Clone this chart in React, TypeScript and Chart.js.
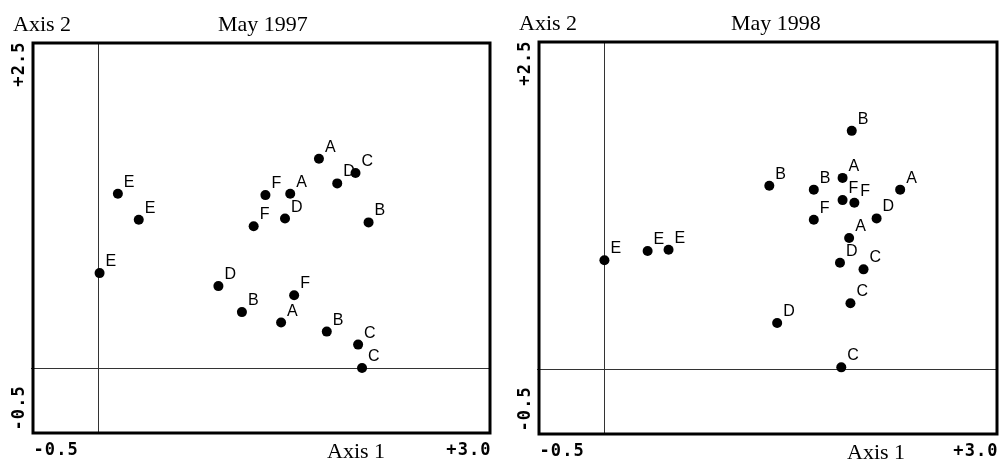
import React, { useEffect, useRef } from 'react';
import { Chart, registerables } from 'chart.js';

Chart.register(...registerables);

// ---- Data ----
const groups1997 = ['E', 'E', 'E', 'F', 'A', 'A', 'D', 'C', 'F', 'D', 'B', 'D', 'F', 'B', 'A', 'B', 'C', 'C'];
const axis1_1997 = [0.15, 0.31, 0.01, 1.28, 1.47, 1.69, 1.83, 1.97, 1.19, 1.43, 2.07, 0.92, 1.5, 1.1, 1.4, 1.75, 1.99, 2.02];
const axis2_1997 = [1.34, 1.14, 0.73, 1.33, 1.34, 1.61, 1.42, 1.5, 1.09, 1.15, 1.12, 0.63, 0.56, 0.43, 0.35, 0.28, 0.18, 0.0];

const groups1998 = ['B', 'A', 'B', 'B', 'A', 'F', 'F', 'F', 'D', 'A', 'E', 'E', 'E', 'D', 'C', 'C', 'D', 'C'];
const axis1_1998 = [1.89, 1.82, 1.26, 1.6, 2.26, 1.82, 1.91, 1.6, 2.08, 1.87, 0.0, 0.33, 0.49, 1.8, 1.98, 1.88, 1.32, 1.81];
const axis2_1998 = [1.82, 1.46, 1.4, 1.37, 1.37, 1.29, 1.27, 1.14, 1.15, 1.0, 0.83, 0.9, 0.91, 0.81, 0.76, 0.5, 0.35, 0.01];

const axis1Min = -0.5;
const axis1Max = 3.0;
const axis2Min = -0.5;
const axis2Max = 2.5;
const axis1TickLabels = ['-0.5', '+3.0'];
const axis2TickLabels = ['-0.5', '+2.5'];
const titles = ['May 1997', 'May 1998'];
const axis1Title = 'Axis 1';
const axis2Title = 'Axis 2';

// ---- Layout (styles, not data) ----
type Panel = {
  left: number;
  width: number;
  padding: { left: number; right: number; top: number; bottom: number };
  titleX: number;
  axis1TitleX: number;
  groups: string[];
  xs: number[];
  ys: number[];
  title: string;
};

const panels: Panel[] = [
  {
    left: 0,
    width: 500,
    padding: { left: 33, right: 10, top: 43, bottom: 27 },
    titleX: 218,
    axis1TitleX: 327,
    groups: groups1997,
    xs: axis1_1997,
    ys: axis2_1997,
    title: titles[0],
  },
  {
    left: 500,
    width: 502,
    padding: { left: 39, right: 2, top: 42, bottom: 26 },
    titleX: 231,
    axis1TitleX: 347,
    groups: groups1998,
    xs: axis1_1998,
    ys: axis2_1998,
    title: titles[1],
  },
];

const HEIGHT = 460;
const MONO = 'bold 17px "DejaVu Sans Mono", monospace';
const SERIF = '22px "Liberation Serif", "Times New Roman", serif';
const SANS = '16px "Liberation Sans", Arial, sans-serif';
const PITCH = 11.3;

function drawSpaced(ctx: CanvasRenderingContext2D, text: string, x0: number, baseline: number) {
  ctx.textAlign = 'center';
  for (let i = 0; i < text.length; i++) {
    ctx.fillText(text[i], x0 + i * PITCH + PITCH / 2, baseline);
  }
}

function makePlugin(panel: Panel) {
  return {
    id: 'ordination' + panel.left,
    beforeDatasetsDraw(chart: any) {
      const ctx: CanvasRenderingContext2D = chart.ctx;
      const { left, right, top, bottom } = chart.chartArea;
      const xs = chart.scales.x;
      const ys = chart.scales.y;
      ctx.save();
      // zero lines
      ctx.strokeStyle = '#333';
      ctx.lineWidth = 1;
      const x0 = Math.round(xs.getPixelForValue(0)) + 0.5;
      const y0 = Math.round(ys.getPixelForValue(0)) + 0.5;
      ctx.beginPath();
      ctx.moveTo(x0, top);
      ctx.lineTo(x0, bottom);
      ctx.moveTo(left - 2, y0);
      ctx.lineTo(right, y0);
      ctx.stroke();
      // frame
      ctx.strokeStyle = '#000';
      ctx.lineWidth = 3;
      ctx.strokeRect(left, top, right - left, bottom - top);
      ctx.restore();
    },
    afterDatasetsDraw(chart: any) {
      const ctx: CanvasRenderingContext2D = chart.ctx;
      const { left, right, top, bottom } = chart.chartArea;
      const xs = chart.scales.x;
      const ys = chart.scales.y;
      ctx.save();
      ctx.fillStyle = '#000';

      // point labels
      ctx.font = SANS;
      ctx.textAlign = 'left';
      ctx.textBaseline = 'alphabetic';
      panel.groups.forEach((g, i) => {
        const px = xs.getPixelForValue(panel.xs[i]);
        const py = ys.getPixelForValue(panel.ys[i]);
        ctx.fillText(g, px + 6, py - 7);
      });

      // titles
      ctx.font = SERIF;
      ctx.textAlign = 'left';
      ctx.fillText(axis2Title, left - 20, top - 12);
      ctx.fillText(panel.title, panel.titleX, top - 12);
      ctx.fillText(axis1Title, panel.axis1TitleX, bottom + 25);

      // bottom tick labels
      ctx.font = MONO;
      drawSpaced(ctx, axis1TickLabels[0], xs.getPixelForValue(axis1Min), bottom + 22);
      drawSpaced(
        ctx,
        axis1TickLabels[1],
        xs.getPixelForValue(axis1Max) - axis1TickLabels[1].length * PITCH + 1,
        bottom + 22
      );

      // rotated left tick labels
      const cx = left - 9;
      ctx.save();
      ctx.translate(cx, ys.getPixelForValue(axis2Min));
      ctx.rotate(-Math.PI / 2);
      drawSpaced(ctx, axis2TickLabels[0], 2, 0);
      ctx.restore();
      ctx.save();
      ctx.translate(cx, ys.getPixelForValue(axis2Max));
      ctx.rotate(-Math.PI / 2);
      drawSpaced(ctx, axis2TickLabels[1], -axis2TickLabels[1].length * PITCH + 1, 0);
      ctx.restore();

      ctx.restore();
    },
  };
}

function PanelChart({ panel }: { panel: Panel }) {
  const ref = useRef<HTMLCanvasElement | null>(null);
  useEffect(() => {
    if (!ref.current) return;
    const chart = new Chart(ref.current, {
      type: 'scatter',
      data: {
        datasets: [
          {
            data: panel.xs.map((x, i) => ({ x, y: panel.ys[i] })),
            backgroundColor: '#000',
            borderColor: '#000',
            borderWidth: 0,
            pointRadius: 5,
            pointHoverRadius: 5,
          },
        ],
      },
      options: {
        animation: false,
        responsive: false,
        devicePixelRatio: 1,
        layout: { padding: panel.padding },
        scales: {
          x: { type: 'linear', min: axis1Min, max: axis1Max, display: false },
          y: { type: 'linear', min: axis2Min, max: axis2Max, display: false },
        },
        plugins: {
          legend: { display: false },
          tooltip: { enabled: false },
        },
        events: [],
      },
      plugins: [makePlugin(panel)],
    });
    return () => chart.destroy();
  }, [panel]);
  return (
    <canvas
      ref={ref}
      width={panel.width}
      height={HEIGHT}
      style={{ position: 'absolute', left: panel.left, top: 0, width: panel.width, height: HEIGHT }}
    />
  );
}

export default function App() {
  return (
    <div style={{ position: 'fixed', left: 0, top: 0, width: 1002, height: HEIGHT, background: '#fff' }}>
      {panels.map((p) => (
        <PanelChart key={p.left} panel={p} />
      ))}
    </div>
  );
}
